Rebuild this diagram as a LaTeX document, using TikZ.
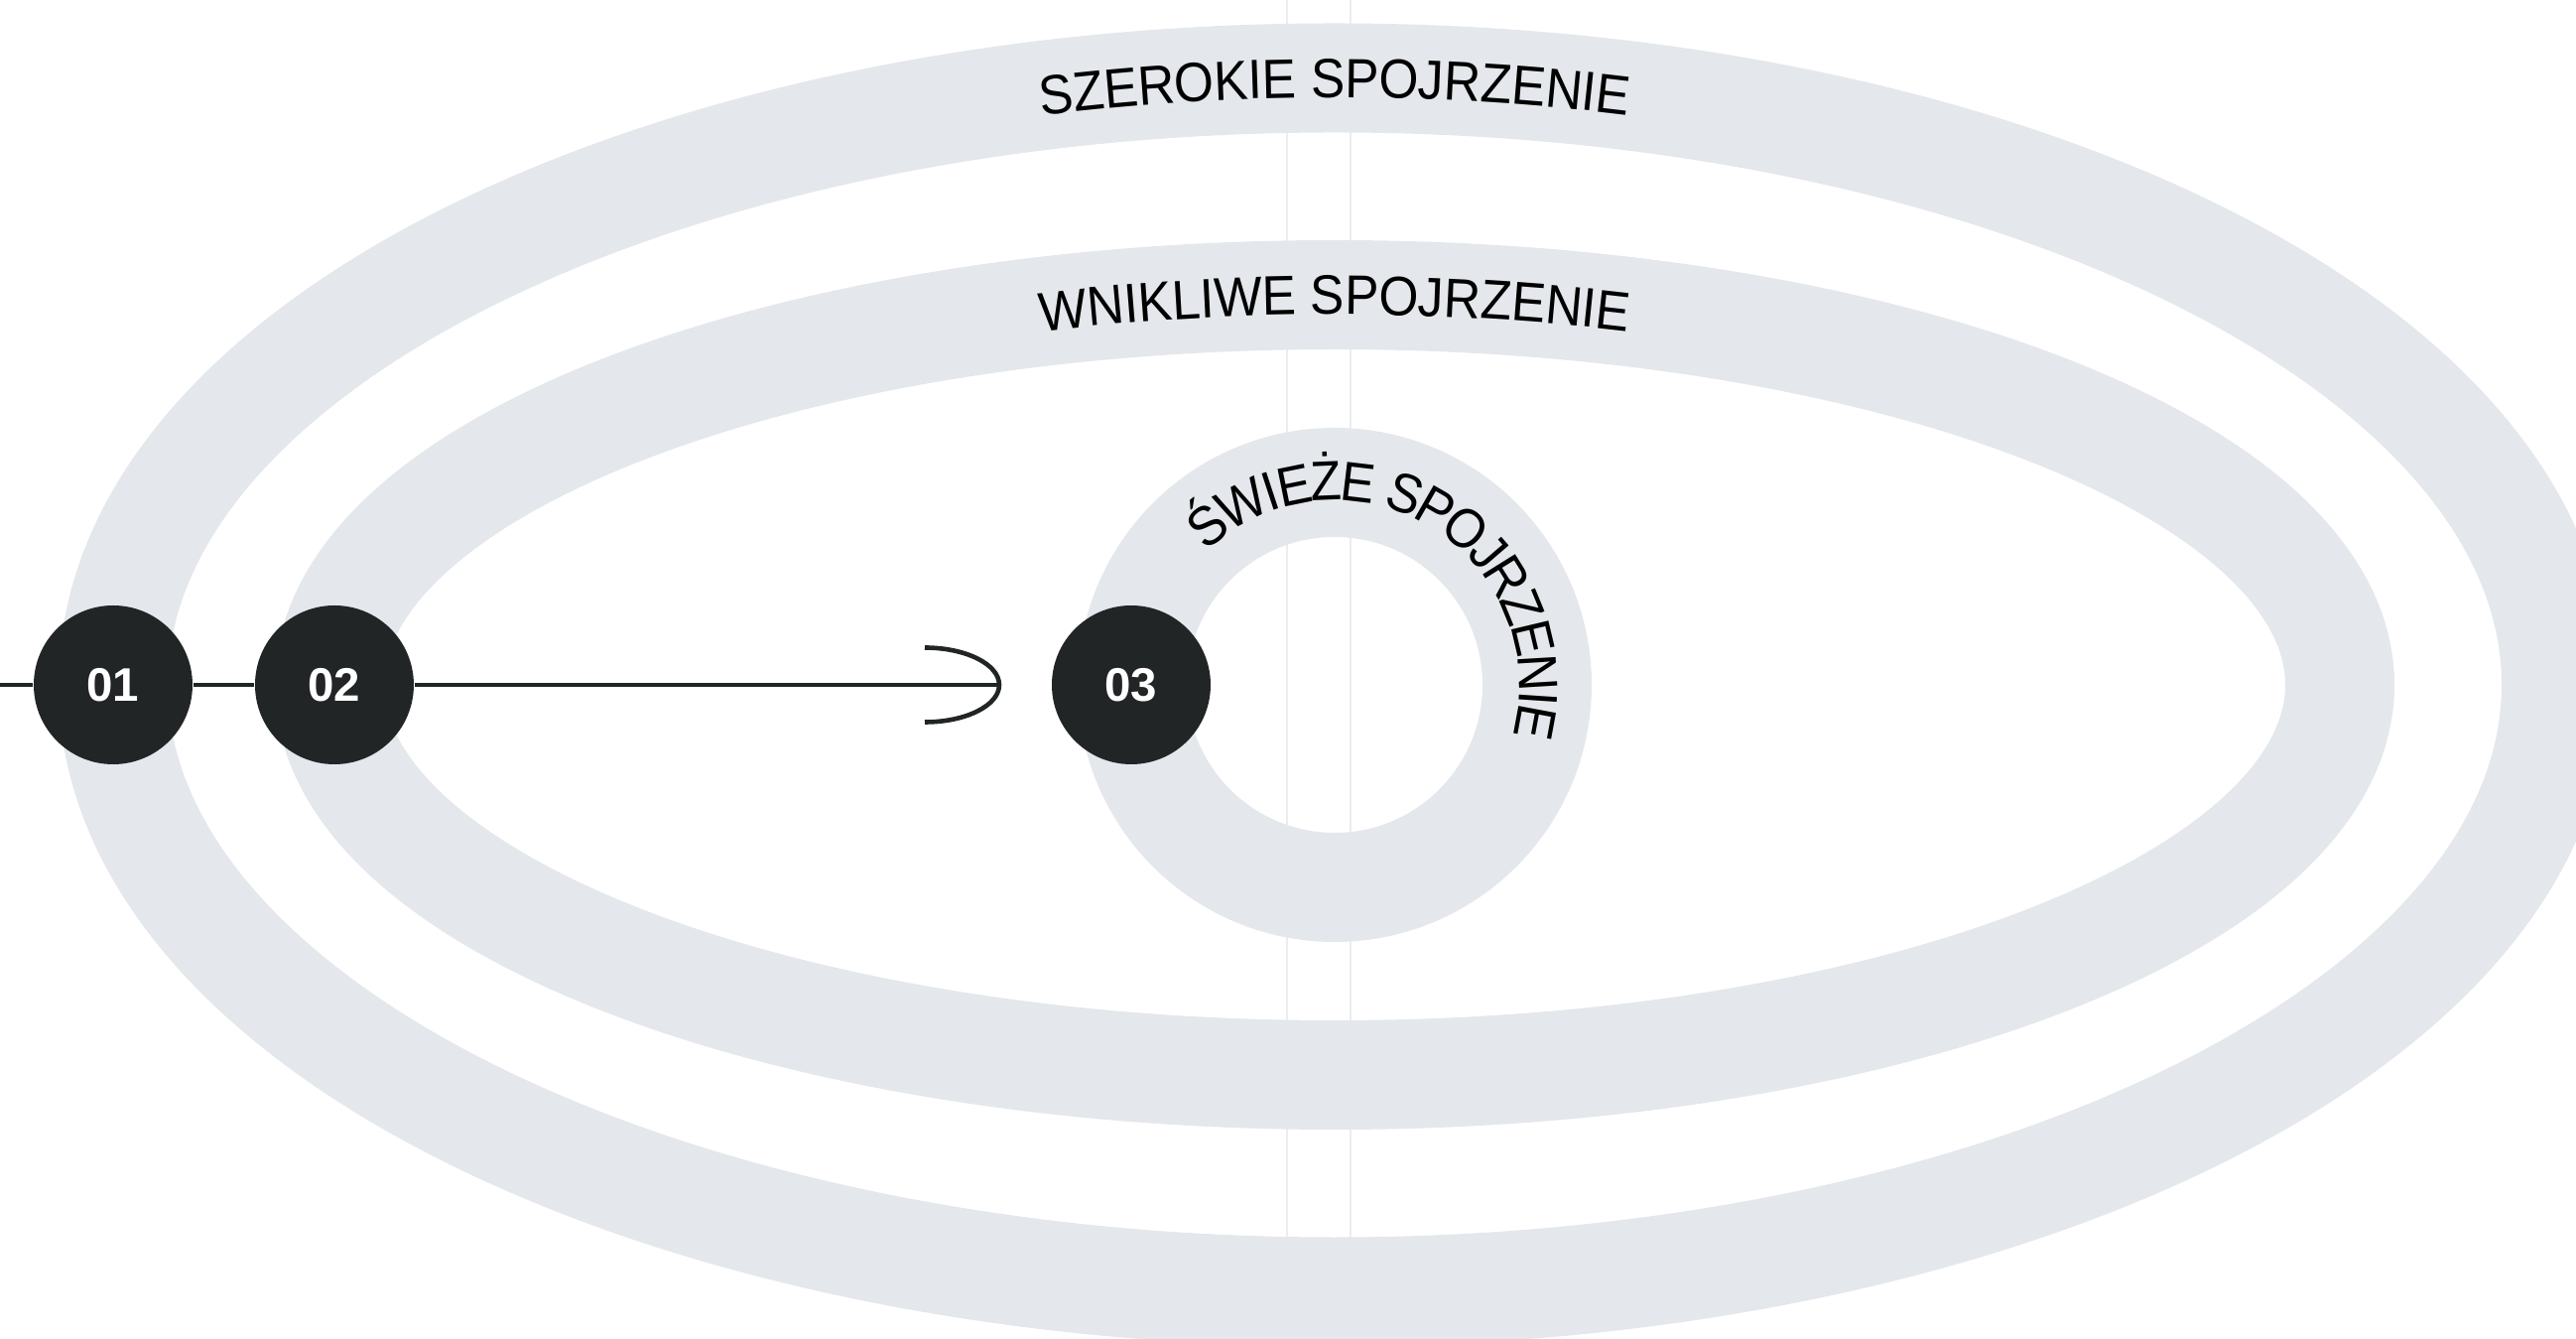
\documentclass[tikz,border=0pt]{standalone}
\usepackage{fontspec}
\setmainfont{Liberation Sans}
\newfontfamily\arcfont{Liberation Sans}[FakeStretch=0.92]
\usetikzlibrary{decorations.text}
\definecolor{band}{HTML}{E4E7EB}
\definecolor{guide}{HTML}{EBEDF0}
\definecolor{ink}{HTML}{222526}

\begin{document}
\begin{tikzpicture}[
  ring/.style={draw=band, line width=1.1cm},
  guideline/.style={draw=guide, line width=0.027cm},
  conn/.style={draw=ink, line width=0.046cm},
  numdot/.style={circle, fill=ink, text=white, minimum size=1.6cm, inner sep=0pt,
    font=\bfseries\fontsize{13.5}{13.5}\selectfont},
  arclabel/.style={decorate, decoration={text along path, text align=center,
    raise=-0.2cm, text={|\arcfont\fontsize{15.9}{18}\selectfont|#1}}}
]
\useasboundingbox (-13.45,-6.59) rectangle (12.51,6.90);
\foreach \x in {-0.48,0.16}
  \draw[guideline] (\x,6.9) -- (\x,-5.6);
\draw[ring] (0,0) ellipse [x radius=12.31cm, y radius=6.115cm];
\draw[ring] (0,0) ellipse [x radius=10.13cm, y radius=3.93cm];
\draw[ring] (0,0) circle [radius=2.04cm];
\path[arclabel={SZEROKIE SPOJRZENIE}] ({12.31*cos(150)},{6.115*sin(150)})
  arc[start angle=150, end angle=30, x radius=12.31cm, y radius=6.115cm];
\path[arclabel={WNIKLIWE SPOJRZENIE}] ({10.13*cos(150)},{3.93*sin(150)})
  arc[start angle=150, end angle=30, x radius=10.13cm, y radius=3.93cm];
\path[arclabel={ŚWIEŻE SPOJRZENIE}] (140:2.06)
  arc[start angle=140, end angle=-22, radius=2.06cm];
\foreach \pos/\num in {-12.31/01, -10.08/02, -2.05/03}
  \node[numdot] (n\num) at (\pos,0) {\num};
\coordinate (start) at (-13.45,0);
\coordinate (tip) at (-3.38,0);
\draw[conn] (start) -- (n01);
\draw[conn] (n01) -- (n02);
\draw[conn] (n02) -- (tip);
\draw[conn] (tip) ++(-0.75,0.375) arc[start angle=90, end angle=-90, x radius=0.75cm, y radius=0.375cm];
\end{tikzpicture}
\end{document}
